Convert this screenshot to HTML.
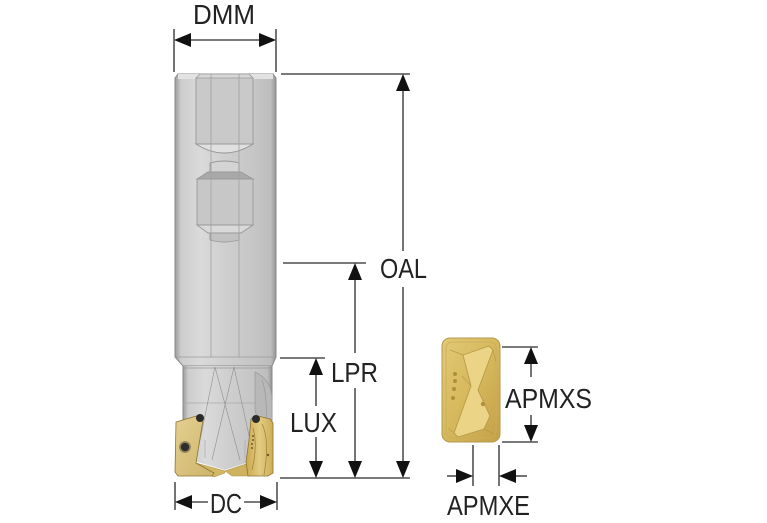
<!DOCTYPE html>
<html><head><meta charset="utf-8"><style>
html,body{margin:0;padding:0;background:#fff;}
svg{display:block;}
text{font-family:"Liberation Sans",Arial,sans-serif;fill:#222;}
</style></head><body>
<svg width="767" height="523" viewBox="0 0 767 523" xmlns="http://www.w3.org/2000/svg">
<defs>
<linearGradient id="sh" x1="0" x2="1" y1="0" y2="0">
<stop offset="0" stop-color="#9c9c9c"/>
<stop offset="0.06" stop-color="#cdcdcd"/>
<stop offset="0.25" stop-color="#dadada"/>
<stop offset="0.5" stop-color="#cfcfcf"/>
<stop offset="0.8" stop-color="#c5c5c5"/>
<stop offset="0.95" stop-color="#bdbdbd"/>
<stop offset="1" stop-color="#949494"/>
</linearGradient>
<linearGradient id="gold" x1="0" x2="1" y1="0" y2="1">
<stop offset="0" stop-color="#e3c976"/>
<stop offset="0.5" stop-color="#d6b85c"/>
<stop offset="1" stop-color="#c4a048"/>
</linearGradient>
<linearGradient id="goldL" x1="0" x2="1" y1="0" y2="1">
<stop offset="0" stop-color="#e4d092"/>
<stop offset="1" stop-color="#cdb46a"/>
</linearGradient>
<linearGradient id="gold2" x1="0" x2="1" y1="0" y2="0">
<stop offset="0" stop-color="#c9a94f"/>
<stop offset="0.5" stop-color="#e2cb80"/>
<stop offset="1" stop-color="#cdae58"/>
</linearGradient>
</defs>

<!-- SHANK -->
<polygon points="178,74 273,74 276,78 276,357 272,366 183,366 175,357 175,78" fill="url(#sh)" stroke="#8a8a8a" stroke-width="1"/>
<rect x="178" y="74" width="95" height="5" fill="#e2e2e2"/>
<!-- upper flat feature -->
<path d="M196,78 L196,144 Q224,162 253,144 L253,78" fill="#c9c9c9" stroke="#999" stroke-width="0.9"/>
<path d="M196,144 Q224,162 253,144 Z" fill="#e0e0e0" stroke="#999" stroke-width="0.9"/>
<line x1="196" y1="144" x2="253" y2="144" stroke="#999" stroke-width="0.9"/>
<polygon points="196,78 253,78 249,74 200,74" fill="#d6d6d6" stroke="#999" stroke-width="0.8"/>
<!-- mid feature -->
<path d="M210,172 L210,163 Q224,159 239,163 L239,172 Z" fill="#d4d4d4" stroke="#999" stroke-width="0.9"/>
<polygon points="208,172 241,172 253,179 197,179" fill="#a9a9a9" stroke="#999" stroke-width="0.9"/>
<rect x="197" y="179" width="56" height="46" fill="#c7c7c7" stroke="#999" stroke-width="0.9"/>
<polygon points="197,225 253,225 241,233 208,233" fill="#d9d9d9" stroke="#999" stroke-width="0.9"/>
<path d="M210,233 L210,240 Q224,244 239,240 L239,233 Z" fill="#c2c2c2" stroke="#999" stroke-width="0.9"/>
<line x1="211" y1="74" x2="211" y2="357" stroke="#a0a0a0" stroke-width="0.8"/>
<line x1="239" y1="74" x2="239" y2="357" stroke="#a0a0a0" stroke-width="0.8"/>
<line x1="175" y1="357" x2="276" y2="357" stroke="#9a9a9a" stroke-width="0.8"/>

<!-- HEAD -->
<polygon points="183,366 272,366 272,462 249,462 225,470 197,462 183,462" fill="url(#sh)"/>
<line x1="183" y1="366" x2="183" y2="440" stroke="#8a8a8a" stroke-width="1"/>
<line x1="272" y1="366" x2="272" y2="430" stroke="#8a8a8a" stroke-width="1"/>
<line x1="183" y1="368" x2="272" y2="368" stroke="#999" stroke-width="0.8"/>
<line x1="183" y1="403" x2="272" y2="403" stroke="#aaa" stroke-width="0.8"/>
<path d="M255,372 Q272,380 272,400 L272,445 Q260,430 255,410 Z" fill="#b8b8b8" stroke="#999" stroke-width="0.7"/>
<path d="M262,380 Q268,395 266,440" fill="none" stroke="#999" stroke-width="0.7"/>
<path d="M205,440 L205,458 M245,440 L245,458" stroke="#aaa" stroke-width="0.7"/>
<g stroke="#8f8f8f" stroke-width="0.6" fill="none">
<line x1="215" y1="367" x2="197" y2="455"/>
<line x1="215" y1="367" x2="240" y2="460"/>
<line x1="234" y1="367" x2="212" y2="460"/>
<line x1="234" y1="367" x2="250" y2="440"/>
</g>
<!-- gold ramps under body -->
<polygon points="196,463 225,471 225,473 214,477 196,470" fill="#d2b764" stroke="#a68a3e" stroke-width="0.5"/>
<polygon points="225,471 249,463 249,476 232,476" fill="#cfb260" stroke="#a68a3e" stroke-width="0.5"/>
<!-- left insert -->
<polygon points="176,422 200,415 203,420 196,463 214,473 212,476 178,476 175,472" fill="url(#goldL)" stroke="#8d7433" stroke-width="0.8"/>
<circle cx="185" cy="447" r="6" fill="#9a8a5e"/>
<circle cx="185" cy="447" r="4.3" fill="#2e2e2e"/>
<circle cx="200" cy="418" r="4" fill="#2a2a2a"/>
<!-- right insert -->
<polygon points="251,419 258,416 270,419 273,423 273,473 268,476 248,476 246,462 249,440" fill="url(#gold2)" stroke="#8d7433" stroke-width="0.8"/>
<path d="M253,428 Q258,445 252,470 M262,424 Q270,440 264,475" fill="none" stroke="#a4853c" stroke-width="0.8"/>
<circle cx="256" cy="419" r="4" fill="#2a2a2a"/>
<g fill="#6b5a2c"><circle cx="253" cy="436" r="1"/><circle cx="253" cy="440" r="1"/><circle cx="252" cy="444" r="1"/><circle cx="252" cy="448" r="1"/><circle cx="268" cy="455" r="1.2"/></g>

<!-- DIMENSION LINES -->
<g stroke="#2a2a2a" stroke-width="1.3" fill="none">
<line x1="174" y1="29" x2="174" y2="72"/>
<line x1="276" y1="29" x2="276" y2="72"/>
<line x1="188" y1="40" x2="262" y2="40"/>
<line x1="281" y1="74" x2="410" y2="74"/>
<line x1="403" y1="88" x2="403" y2="251"/>
<line x1="403" y1="287" x2="403" y2="464"/>
<line x1="283" y1="263" x2="366" y2="263"/>
<line x1="355" y1="277" x2="355" y2="353"/>
<line x1="355" y1="388" x2="355" y2="464"/>
<line x1="280" y1="358" x2="325" y2="358"/>
<line x1="316" y1="372" x2="316" y2="406"/>
<line x1="316" y1="437" x2="316" y2="464"/>
<line x1="280" y1="478" x2="410" y2="478"/>
<line x1="175" y1="482" x2="175" y2="510"/>
<line x1="277" y1="482" x2="277" y2="510"/>
<line x1="188" y1="502" x2="208" y2="502"/>
<line x1="244" y1="502" x2="264" y2="502"/>
<line x1="502" y1="347" x2="538" y2="347"/>
<line x1="502" y1="442" x2="538" y2="442"/>
<line x1="531" y1="360" x2="531" y2="377"/>
<line x1="531" y1="415" x2="531" y2="430"/>
<line x1="473" y1="445" x2="473" y2="486"/>
<line x1="499" y1="445" x2="499" y2="486"/>
<line x1="447" y1="476" x2="460" y2="476"/>
<line x1="512" y1="476" x2="527" y2="476"/>
</g>
<g fill="#111">
<polygon points="174,40 191,33 191,47"/>
<polygon points="276,40 259,33 259,47"/>
<polygon points="403,74 396,91 410,91"/>
<polygon points="403,478 396,461 410,461"/>
<polygon points="355,263 348,280 362,280"/>
<polygon points="355,478 348,461 362,461"/>
<polygon points="316,358 309,375 323,375"/>
<polygon points="316,478 309,461 323,461"/>
<polygon points="175,502 192,495 192,509"/>
<polygon points="277,502 260,495 260,509"/>
<polygon points="531,347 524,364 538,364"/>
<polygon points="531,442 524,425 538,425"/>
<polygon points="473,476 456,469 456,483"/>
<polygon points="499,476 516,469 516,483"/>
</g>

<!-- INSERT (right) -->
<rect x="442" y="338" width="58" height="104" rx="8" ry="8" fill="url(#gold)" stroke="#b59a4a" stroke-width="1"/>
<rect x="446" y="342" width="50" height="96" rx="6" ry="6" fill="none" stroke="#c9ad5a" stroke-width="0.8"/>
<polygon points="463,355 489,346 493,350 478,390 490,416 484,429 458,437 454,433 471,386" fill="#ecd487" stroke="#b89b48" stroke-width="0.9"/>
<path d="M450,350 L463,355 M493,350 L496,362 M454,433 L448,428 M484,429 L494,434 M471,386 L462,376" fill="none" stroke="#b89b48" stroke-width="0.7"/>
<g fill="#b08f3c">
<circle cx="455" cy="374" r="2"/><circle cx="455" cy="381" r="2"/><circle cx="454" cy="389" r="2"/><circle cx="453" cy="398" r="2"/>
<circle cx="483" cy="404" r="2.2"/>
</g>

<!-- TEXT -->
<text x="193" y="24" font-size="28" textLength="62" lengthAdjust="spacingAndGlyphs">DMM</text>
<text x="380" y="278" font-size="28" textLength="47" lengthAdjust="spacingAndGlyphs">OAL</text>
<text x="331" y="382" font-size="28" textLength="47" lengthAdjust="spacingAndGlyphs">LPR</text>
<text x="290" y="432" font-size="28" textLength="47" lengthAdjust="spacingAndGlyphs">LUX</text>
<text x="210" y="513" font-size="28" textLength="32" lengthAdjust="spacingAndGlyphs">DC</text>
<text x="505" y="408" font-size="28" textLength="87" lengthAdjust="spacingAndGlyphs">APMXS</text>
<text x="447" y="515" font-size="28" textLength="83" lengthAdjust="spacingAndGlyphs">APMXE</text>
</svg>
</body></html>
